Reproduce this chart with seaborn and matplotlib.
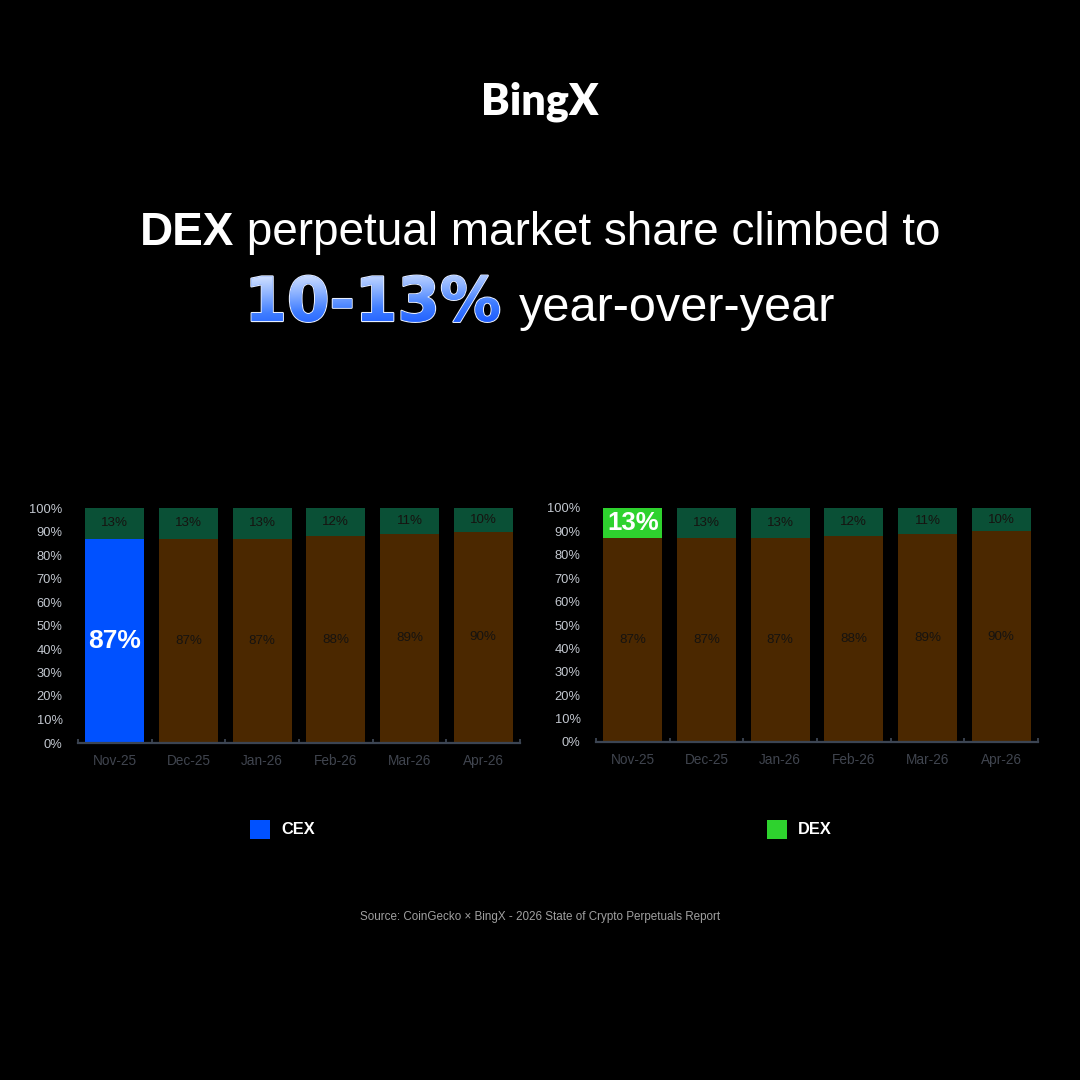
import matplotlib
matplotlib.use("Agg")
import matplotlib.pyplot as plt
import matplotlib.patheffects as pe
from matplotlib.patches import Rectangle, PathPatch
from matplotlib.textpath import TextPath
from matplotlib.font_manager import FontProperties
from matplotlib.colors import LinearSegmentedColormap
import seaborn as sns
import numpy as np
import pandas as pd

# ---------------- data ----------------
months = ["Nov-25", "Dec-25", "Jan-26", "Feb-26", "Mar-26", "Apr-26"]
cex_share = [87, 87, 87, 88, 89, 90]
dex_share = [13, 13, 13, 12, 11, 10]
y_ticks = [0, 10, 20, 30, 40, 50, 60, 70, 80, 90, 100]
y_tick_labels = ["0%", "10%", "20%", "30%", "40%", "50%", "60%", "70%", "80%", "90%", "100%"]
legend_labels = ["CEX", "DEX"]
title_bold = "DEX"
title_rest = " perpetual market share climbed to"
headline_num = "10-13%"
headline_rest = "year-over-year"
source_text = "Source: CoinGecko \u00d7 BingX - 2026 State of Crypto Perpetuals Report"
logo_text = "BingX"

# ---------------- style ----------------
BG = "#000000"
BROWN = "#4b2800"
DKGREEN = "#0a5036"
BLUE = "#0051ff"
LIME = "#2ed22e"
YTICK_C = "#c3c8d0"
XTICK_C = "#40454f"
AXIS_C = "#3c4553"
INBAR_C = "#161310"

sns.set_theme(style="dark")
plt.rcParams["font.family"] = ["Liberation Sans", "DejaVu Sans"]
plt.rcParams["figure.facecolor"] = BG
plt.rcParams["axes.facecolor"] = BG

W = H = 1080
fig = plt.figure(figsize=(10.8, 10.8), dpi=100, facecolor=BG)

df = pd.DataFrame({"month": months, "cex": cex_share, "dex": dex_share})
df["total"] = df["cex"] + df["dex"]


def px(x, y):
    return x / W, 1 - y / H


def panel(rect, highlight):
    ax = fig.add_axes(rect)
    ax.set_facecolor(BG)
    top_cols = [DKGREEN] * len(months)
    bot_cols = [BROWN] * len(months)
    if highlight == "cex":
        bot_cols[0] = BLUE
    else:
        top_cols[0] = LIME
    sns.barplot(data=df, x="month", y="total", hue="month", palette=top_cols,
                legend=False, width=0.8, saturation=1, errorbar=None,
                linewidth=0, ax=ax)
    sns.barplot(data=df, x="month", y="cex", hue="month", palette=bot_cols,
                legend=False, width=0.8, saturation=1, errorbar=None,
                linewidth=0, ax=ax)
    for i, (c, d) in enumerate(zip(cex_share, dex_share)):
        if highlight == "cex" and i == 0:
            ax.text(i, c / 2, f"{c}%", ha="center", va="center", color="white",
                    fontsize=19, fontweight="bold")
        else:
            ax.text(i, c / 2, f"{c}%", ha="center", va="center", color=INBAR_C,
                    fontsize=9.6)
        if highlight == "dex" and i == 0:
            ax.text(i, c + d / 2, f"{d}%", ha="center", va="center", color="white",
                    fontsize=18.5, fontweight="bold")
        else:
            ax.text(i, c + d / 2, f"{d}%", ha="center", va="center", color=INBAR_C,
                    fontsize=9.6)
    ax.set_ylim(0, 100)
    ax.set_xlim(-0.5, len(months) - 0.5)
    ax.set_yticks(y_ticks)
    ax.set_yticklabels(y_tick_labels)
    ax.set_xlabel("")
    ax.set_ylabel("")
    ax.grid(False)
    for s in ["top", "right", "left"]:
        ax.spines[s].set_visible(False)
    ax.spines["bottom"].set_visible(True)
    ax.spines["bottom"].set_color(AXIS_C)
    ax.spines["bottom"].set_linewidth(1.6)
    ax.tick_params(axis="y", length=0, pad=11, labelsize=9.3, labelcolor=YTICK_C)
    ax.tick_params(axis="x", which="major", length=0, pad=8, labelsize=9.8,
                   labelcolor=XTICK_C)
    ax.set_xticks(np.arange(-0.5, len(months), 1), minor=True)
    ax.tick_params(axis="x", which="minor", bottom=True, length=3, width=1.3,
                   direction="in", color=AXIS_C)
    return ax


panel([78 / W, 1 - 743 / H, 442 / W, 235 / H], "cex")
panel([596 / W, 1 - 742 / H, 442 / W, 234 / H], "dex")

renderer = fig.canvas.get_renderer()


def line(parts, center_x, baseline_y, gap=0):
    texts = []
    for s, kw in parts:
        t = fig.text(0, 0, s, va="baseline", ha="left", **kw)
        texts.append(t)
    widths = [t.get_window_extent(renderer).width for t in texts]
    total = sum(widths) + gap * (len(texts) - 1)
    x = center_x - total / 2
    lefts = []
    for t, w in zip(texts, widths):
        t.set_position(px(x, baseline_y))
        lefts.append(x)
        x += w + gap
    return texts, lefts


# ---------------- logo ----------------
line([(logo_text, dict(color="white", fontsize=31, fontweight="heavy",
                       family=["Lato", "DejaVu Sans"]))], 540, 114)

# ---------------- headline ----------------
line([(title_bold, dict(color="white", fontsize=33, fontweight="bold")),
      (title_rest, dict(color="white", fontsize=33))], 540, 245)

NUM_SIZE = 44
num_effects = [pe.withStroke(linewidth=1.6, foreground="#e6eeff")]
texts, lefts = line([(headline_num, dict(color="#4f86ff", fontsize=NUM_SIZE,
                                         fontweight="bold", family=["DejaVu Sans"],
                                         path_effects=num_effects)),
                     (headline_rest, dict(color="white", fontsize=35))],
                    540, 321, gap=18)

# gradient fill over the number, clipped to its glyph outline
ov = fig.add_axes([0, 0, 1, 1], zorder=10)
ov.set_xlim(0, W)
ov.set_ylim(0, H)
ov.axis("off")
ov.patch.set_alpha(0)
tp = TextPath((lefts[0], H - 321), headline_num, size=NUM_SIZE * 100 / 72,
              prop=FontProperties(family="DejaVu Sans", weight="bold"))
clip = PathPatch(tp, transform=ov.transData, facecolor="none", edgecolor="none")
ov.add_patch(clip)
ext = tp.get_extents()
cmap = LinearSegmentedColormap.from_list("g", ["#1d5cff", "#3f7dff", "#8fb4ff", "#d6e4ff"])
gy, gx = np.mgrid[0:1:200j, 0:1:400j]
grad = 0.8 * gy + 0.2 * (1 - gx)
im = ov.imshow(grad, cmap=cmap, origin="lower", aspect="auto",
               extent=[ext.x0, ext.x1, ext.y0, ext.y1], interpolation="bilinear")
im.set_clip_path(clip)
ov.set_xlim(0, W)
ov.set_ylim(0, H)

# ---------------- legends ----------------
fig.add_artist(Rectangle(px(250, 839), 20 / W, 19 / H, transform=fig.transFigure,
                         facecolor=BLUE, edgecolor="none"))
fig.text(*px(281, 830), legend_labels[0], ha="left", va="center", color="white",
         fontsize=11.8, fontweight="bold")
fig.add_artist(Rectangle(px(767, 839), 20 / W, 19 / H, transform=fig.transFigure,
                         facecolor=LIME, edgecolor="none"))
fig.text(*px(798, 830), legend_labels[1], ha="left", va="center", color="white",
         fontsize=11.8, fontweight="bold")

# ---------------- source ----------------
fig.text(*px(540, 917), source_text, ha="center", va="center", color="#a0a0a0",
         fontsize=8.4)

fig.savefig("out.png", dpi=100, facecolor=BG)
